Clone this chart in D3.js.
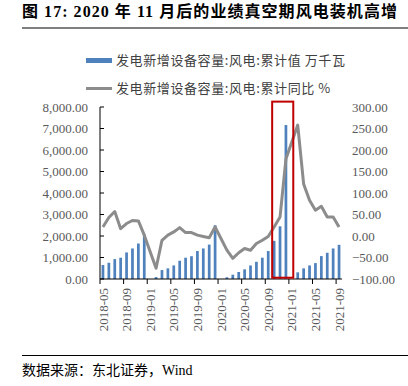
<!DOCTYPE html>
<html><head><meta charset="utf-8">
<script src="https://cdn.jsdelivr.net/npm/d3@7/dist/d3.min.js"></script>
<style>
html,body{margin:0;padding:0;background:#fff;}
svg{display:block;}
</style></head>
<body>
<svg id="chart" width="408" height="386"></svg>
<script>
const titleText = "图 17:  2020 年 11 月后的业绩真空期风电装机高增";
const sourceText = "数据来源：东北证券，Wind";
const legendLabels = ["发电新增设备容量:风电:累计值 万千瓦", "发电新增设备容量:风电:累计同比 %"];

const categories = [
  "2018-05","2018-06","2018-07","2018-08","2018-09","2018-10","2018-11","2018-12",
  "2019-01","2019-02","2019-03","2019-04","2019-05","2019-06","2019-07","2019-08","2019-09","2019-10","2019-11","2019-12",
  "2020-01","2020-02","2020-03","2020-04","2020-05","2020-06","2020-07","2020-08","2020-09","2020-10","2020-11","2020-12",
  "2021-01","2021-02","2021-03","2021-04","2021-05","2021-06","2021-07","2021-08","2021-09"
];
// 累计值 万千瓦 (null = not reported)
const capacity = [
  650,755,925,990,1235,1420,1650,2080,
  null,90,415,495,630,850,990,1060,1300,1420,1600,2500,
  null,80,200,325,450,630,800,990,1300,1775,2450,7160,
  null,310,495,630,740,1065,1220,1420,1590
];
// 累计同比 %
const yoy = [
  21,43,57,17,29,36,35,2,
  null,-75,-10,2,9.5,19.5,8,8,2,-1,-4,21,
  null,-33,-52,-39,-29,-33,-17.5,-10,-1,21,44,179,
  null,258,121,83,60,69,44,44,21
];
const leftTicks = [0,1000,2000,3000,4000,5000,6000,7000,8000];
const rightTicks = [-100,-50,0,50,100,150,200,250,300];
const xLabelEvery = 4;
const highlight = {from: "2020-10", to: "2021-01", top: 8250, bottom: 60};

const svg = d3.select("#chart");
const plot = {left: 100, right: 342, top: 107, bottom: 279};

const slot = d3.scaleBand().domain(categories).range([plot.left, plot.right]).padding(0);
const step = slot.step();
const barW = step * 0.46;
const yL = d3.scaleLinear().domain([0, 8000]).range([plot.bottom, plot.top]);
const yR = d3.scaleLinear().domain([-100, 300]).range([plot.bottom, plot.top]);

const serif = "'Liberation Serif','Times New Roman',serif";
const cjk = "'Noto Sans CJK SC','Noto Sans',sans-serif";

// Title
svg.append("text").attr("x", 22).attr("y", 17)
  .attr("font-family", "'Liberation Serif','Noto Sans CJK SC',serif")
  .attr("font-weight", "bold").attr("font-size", 16).attr("fill", "#000")
  .attr("textLength", 375).attr("lengthAdjust", "spacing")
  .text(titleText);
svg.append("line").attr("x1", 22).attr("x2", 408).attr("y1", 28).attr("y2", 28)
  .attr("stroke", "#000").attr("stroke-width", 1);

// Source
svg.append("line").attr("x1", 22).attr("x2", 408).attr("y1", 355.5).attr("y2", 355.5)
  .attr("stroke", "#000").attr("stroke-width", 1);
svg.append("text").attr("x", 22).attr("y", 375)
  .attr("font-family", "'Liberation Serif','Noto Sans CJK SC',serif")
  .attr("font-size", 14).attr("fill", "#000").text(sourceText);

// Legend
const lg = svg.append("g");
lg.append("rect").attr("x", 86).attr("y", 58).attr("width", 26).attr("height", 5).attr("fill", "#4f81bd");
lg.append("line").attr("x1", 86).attr("x2", 112).attr("y1", 88.5).attr("y2", 88.5)
  .attr("stroke", "#8c8c8c").attr("stroke-width", 3);
legendLabels.forEach((t, i) => {
  lg.append("text").attr("x", 116).attr("y", 60.5 + i * 28).attr("dy", "0.35em")
    .attr("font-family", cjk).attr("font-size", 13).attr("letter-spacing", 0.6)
    .attr("fill", "#404040").text(t);
});

// Bars
svg.append("g").selectAll("rect")
  .data(categories.map((c, i) => ({c, v: capacity[i]})).filter(d => d.v != null))
  .join("rect")
  .attr("x", d => slot(d.c) + (step - barW) / 2)
  .attr("width", barW)
  .attr("y", d => yL(d.v))
  .attr("height", d => yL(0) - yL(d.v))
  .attr("fill", "#4f81bd");

// Line
const lineData = categories.map((c, i) => ({c, v: yoy[i]})).filter(d => d.v != null);
svg.append("path").datum(lineData)
  .attr("d", d3.line().x(d => slot(d.c) + step / 2).y(d => yR(d.v)))
  .attr("fill", "none").attr("stroke", "#8c8c8c").attr("stroke-width", 3)
  .attr("stroke-linejoin", "round");

// Left axis
const gL = svg.append("g").attr("transform", `translate(${plot.left},0)`);
gL.append("line").attr("y1", plot.top).attr("y2", plot.bottom).attr("stroke", "#000");
leftTicks.forEach(t => {
  gL.append("line").attr("x1", 0).attr("x2", 4).attr("y1", yL(t)).attr("y2", yL(t)).attr("stroke", "#000");
  gL.append("text").attr("x", -12).attr("y", yL(t)).attr("dy", "0.35em")
    .attr("text-anchor", "end").attr("font-family", serif).attr("font-size", 13)
    .attr("fill", "#595959").text(d3.format(",.2f")(t));
});

// Right axis labels
rightTicks.forEach(t => {
  svg.append("text").attr("x", plot.right + 10).attr("y", yR(t)).attr("dy", "0.35em")
    .attr("font-family", serif).attr("font-size", 13)
    .attr("fill", "#595959").text(d3.format(".2f")(t));
});

// X axis
const gX = svg.append("g");
gX.append("line").attr("x1", plot.left).attr("x2", plot.right)
  .attr("y1", plot.bottom).attr("y2", plot.bottom).attr("stroke", "#000");
categories.forEach((c, i) => {
  if (i % xLabelEvery !== 0) return;
  const x0 = slot(c);
  gX.append("line").attr("x1", x0).attr("x2", x0).attr("y1", plot.bottom).attr("y2", plot.bottom + 5)
    .attr("stroke", "#000");
  const cx = x0 + step / 2;
  gX.append("text").attr("transform", `translate(${cx},${plot.bottom + 9}) rotate(-90)`)
    .attr("text-anchor", "end").attr("dy", "0.35em")
    .attr("font-family", serif).attr("font-size", 13).attr("fill", "#595959").text(c);
});

// Highlight box
const hx0 = slot(highlight.from) + 1;
const hx1 = slot(highlight.to) + step - 1.5;
svg.append("rect").attr("x", hx0).attr("y", yL(highlight.top))
  .attr("width", hx1 - hx0).attr("height", yL(highlight.bottom) - yL(highlight.top))
  .attr("fill", "none").attr("stroke", "#c00000").attr("stroke-width", 2);
</script>
</body></html>
